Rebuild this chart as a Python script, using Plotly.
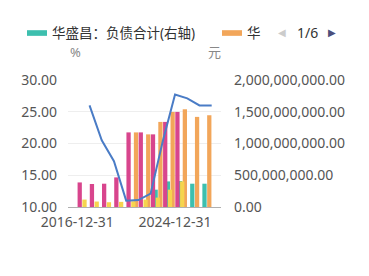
import plotly.graph_objects as go

categories = ["2016-12-31", "2017-12-31", "2018-12-31", "2019-12-31", "2020-12-31",
              "2021-12-31", "2022-12-31", "2023-12-31", "2024-12-31", "2025-03-31",
              "2025-06-30", "2025-09-30"]

liab_total = [None, None, None, None, None, None, None, 273e6, 403e6, 410e6, 367e6, 367e6]
asset_total = [None, None, None, None, None, 1.175e9, 1.144e9, 1.34e9, 1.497e9, 1.539e9, 1.419e9, 1.445e9]
series_pink = [387e6, 362e6, 367e6, 466e6, 1.175e9, 1.175e9, 1.144e9, 1.34e9, 1.497e9, None, None, None]
series_yellow = [117e6, 86e6, 75e6, 81e6, 91e6, 117e6, 148e6, 273e6, 403e6, None, None, None]
debt_ratio = [None, 26.0, 20.5, 17.2, 11.0, 11.1, 12.1, 20.4, 27.7, 27.1, 26.0, 26.0]

left_ticks = [10, 15, 20, 25, 30]
right_ticks = [0, 5e8, 1e9, 1.5e9, 2e9]

TEAL = "#3dbfae"
ORANGE = "#f2a65a"
PINK = "#d8458d"
YELLOW = "#f6d44e"
BLUE = "#4a7cc6"

W, H = 369, 276
L, R, T, B = 68, 148, 79.5, 68.5
PW, PH = W - L - R, H - T - B

def px(x):
    return (x - L) / PW

def py(y):
    return (H - B - y) / PH

FONT = "Noto Sans, Noto Sans CJK SC, sans-serif"
bw = 0.35
fig = go.Figure()
for name, vals, col, off in [
    ("华盛昌：负债合计(右轴)", liab_total, TEAL, -0.763),
    ("华盛昌：资产总计(右轴)", asset_total, ORANGE, -0.371),
    ("华盛昌：负债和所有者权益总计(右轴)", series_pink, PINK, 0.021),
    ("华盛昌：流动负债合计(右轴)", series_yellow, YELLOW, 0.413),
]:
    fig.add_trace(go.Bar(x=categories, y=vals, name=name, marker_color=col,
                         marker_line_width=0, width=bw, offset=off, yaxis="y"))

fig.add_trace(go.Scatter(x=categories, y=debt_ratio, name="华盛昌：资产负债率", mode="lines",
                         line=dict(color=BLUE, width=2), yaxis="y2", connectgaps=False))

fig.update_layout(
    width=W, height=H, margin=dict(l=L, r=R, t=T, b=B, pad=0),
    paper_bgcolor="white", plot_bgcolor="white",
    barmode="overlay", showlegend=False,
    font=dict(family=FONT, color="#555555", size=14),
    xaxis=dict(type="category", tickvals=[categories[0], categories[8]],
               showgrid=False, showline=True, linecolor="#b0b0b0", linewidth=1,
               ticks="", tickfont=dict(size=14, color="#555555"), ticklabelstandoff=2),
    yaxis=dict(side="right", range=[0, 2e9], tickvals=right_ticks, tickformat=",.2f",
               showgrid=True, gridcolor="#eeeeee", gridwidth=1, zeroline=False,
               showline=False, ticks="", tickfont=dict(size=14, color="#555555"),
               ticklabelstandoff=12),
    yaxis2=dict(side="left", overlaying="y", range=[10, 30], tickvals=left_ticks,
                tickformat=".2f", showgrid=False, zeroline=False, showline=False,
                ticks="", tickfont=dict(size=14, color="#555555"), ticklabelstandoff=10),
)

def note(x, y, text, size, color, anchor="center", family=None):
    f = dict(size=size, color=color)
    if family:
        f["family"] = family
    fig.add_annotation(x=px(x), y=py(y), xref="paper", yref="paper", text=text,
                       xanchor=anchor, yanchor="middle", showarrow=False, font=f)

# axis unit labels
note(75, 51, "%", 13, "#888888")
note(214, 51, "元", 13, "#888888")

# legend (paged style)
fig.add_shape(type="rect", xref="paper", yref="paper", x0=px(27), x1=px(47), y0=py(35), y1=py(29.3),
              fillcolor=TEAL, line_width=0)
note(50, 32, "华盛昌：负债合计(右轴)", 13.5, "#333333", anchor="left")
fig.add_shape(type="rect", xref="paper", yref="paper", x0=px(222), x1=px(242), y0=py(35), y1=py(29.3),
              fillcolor=ORANGE, line_width=0)
note(245, 32, "华", 13.5, "#333333", anchor="left")
note(281.5, 32, "◀", 10, "#cccccc", family="DejaVu Sans")
note(307.5, 32, "1/6", 14, "#333333")
note(331.5, 32, "▶", 10, "#4b4f7c", family="DejaVu Sans")

fig.write_html("out.html")
